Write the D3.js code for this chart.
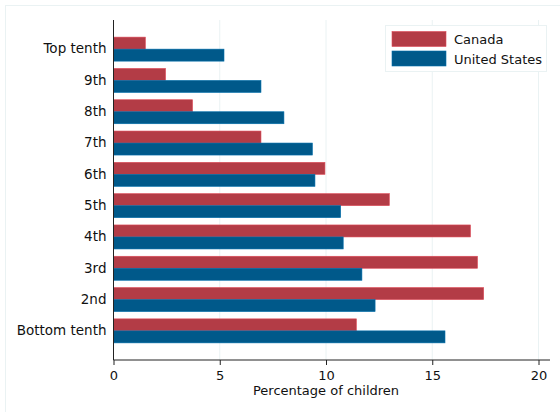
<!DOCTYPE html>
<html><head><meta charset="utf-8">
<script src="https://cdn.jsdelivr.net/npm/d3@7"></script>
<style>body{margin:0;background:#fff}svg{display:block;font-family:"DejaVu Sans",sans-serif}</style>
</head><body>
<svg id="c" width="560" height="412"></svg>
<script>
const categories = ["Top tenth","9th","8th","7th","6th","5th","4th","3rd","2nd","Bottom tenth"];
const canada = [1.5, 2.45, 3.72, 6.94, 9.95, 12.98, 16.8, 17.13, 17.42, 11.43];
const unitedStates = [5.2, 6.94, 8.02, 9.36, 9.48, 10.69, 10.81, 11.69, 12.31, 15.6];
const seriesNames = ["Canada","United States"];
const seriesColors = ["#b33c46","#00598a"];
const xTicks = [0,5,10,15,20];
const xTitle = "Percentage of children";

const svg = d3.select("#c");
// outer frame
svg.append("rect").attr("x",5.5).attr("y",5.5).attr("width",600).attr("height",500)
  .attr("fill","#fff").attr("stroke","#eaf2f3").attr("stroke-width",1);

const L = 113.5, R = 550, T = 20, B = 360;
const x = d3.scaleLinear().domain([0,20]).range([113.5, 538.5]);
const y = d3.scaleBand().domain(categories).range([T, B]).paddingInner(0.233).paddingOuter(0.547);
const ySub = d3.scaleBand().domain(seriesNames).range([0, y.bandwidth()]);

// grid
svg.append("g").selectAll("line").data(xTicks.filter(d=>d>0)).join("line")
  .attr("x1",d=>x(d)).attr("x2",d=>x(d)).attr("y1",T).attr("y2",B)
  .attr("stroke","#eaf2f3").attr("stroke-width",1);

const data = [canada, unitedStates];
const g = svg.append("g");
seriesNames.forEach((s,i)=>{
  g.append("g").selectAll("rect").data(categories).join("rect")
    .attr("x", x(0))
    .attr("y", c => y(c) + ySub(s))
    .attr("width", (c,j) => x(data[i][j]) - x(0))
    .attr("height", ySub.bandwidth())
    .attr("fill", seriesColors[i])
    .attr("stroke", d3.color(seriesColors[i]).brighter(0.6))
    .attr("stroke-width", 0.6);
});

// y axis
const ya = svg.append("g").attr("transform",`translate(${L},0)`)
  .call(d3.axisLeft(y).tickSize(0).tickPadding(7));
ya.select(".domain").attr("stroke","#222").attr("d",`M0,${T}V${B}`);
ya.selectAll("text").attr("font-size",13.5).attr("font-family","DejaVu Sans").attr("fill","#111");

// x axis
const xa = svg.append("g").attr("transform",`translate(0,${B})`)
  .call(d3.axisBottom(x).tickValues(xTicks).tickSize(5).tickPadding(6));
xa.select(".domain").attr("stroke","#222").attr("d",`M${L},0H${R}`);
xa.selectAll(".tick line").attr("stroke","#222");
xa.selectAll("text").attr("font-size",13).attr("font-family","DejaVu Sans").attr("fill","#111");

svg.append("text").attr("x",(L+538.5)/2).attr("y",395).attr("text-anchor","middle")
  .attr("font-size",13).attr("fill","#111").text(xTitle);

// legend
const lg = svg.append("g");
lg.append("rect").attr("x",385.5).attr("y",25.5).attr("width",161).attr("height",46)
  .attr("fill","#fff").attr("stroke","#eaf2f3");
seriesNames.forEach((s,i)=>{
  lg.append("rect").attr("x",392).attr("y",31.5+i*19.5).attr("width",54).attr("height",15)
    .attr("fill",seriesColors[i]).attr("stroke",d3.color(seriesColors[i]).brighter(0.6)).attr("stroke-width",0.6);
  lg.append("text").attr("x",454).attr("y",39.5+i*19.5).attr("dy","0.35em")
    .attr("font-size",13).attr("fill","#111").text(s);
});
</script>
</body></html>
